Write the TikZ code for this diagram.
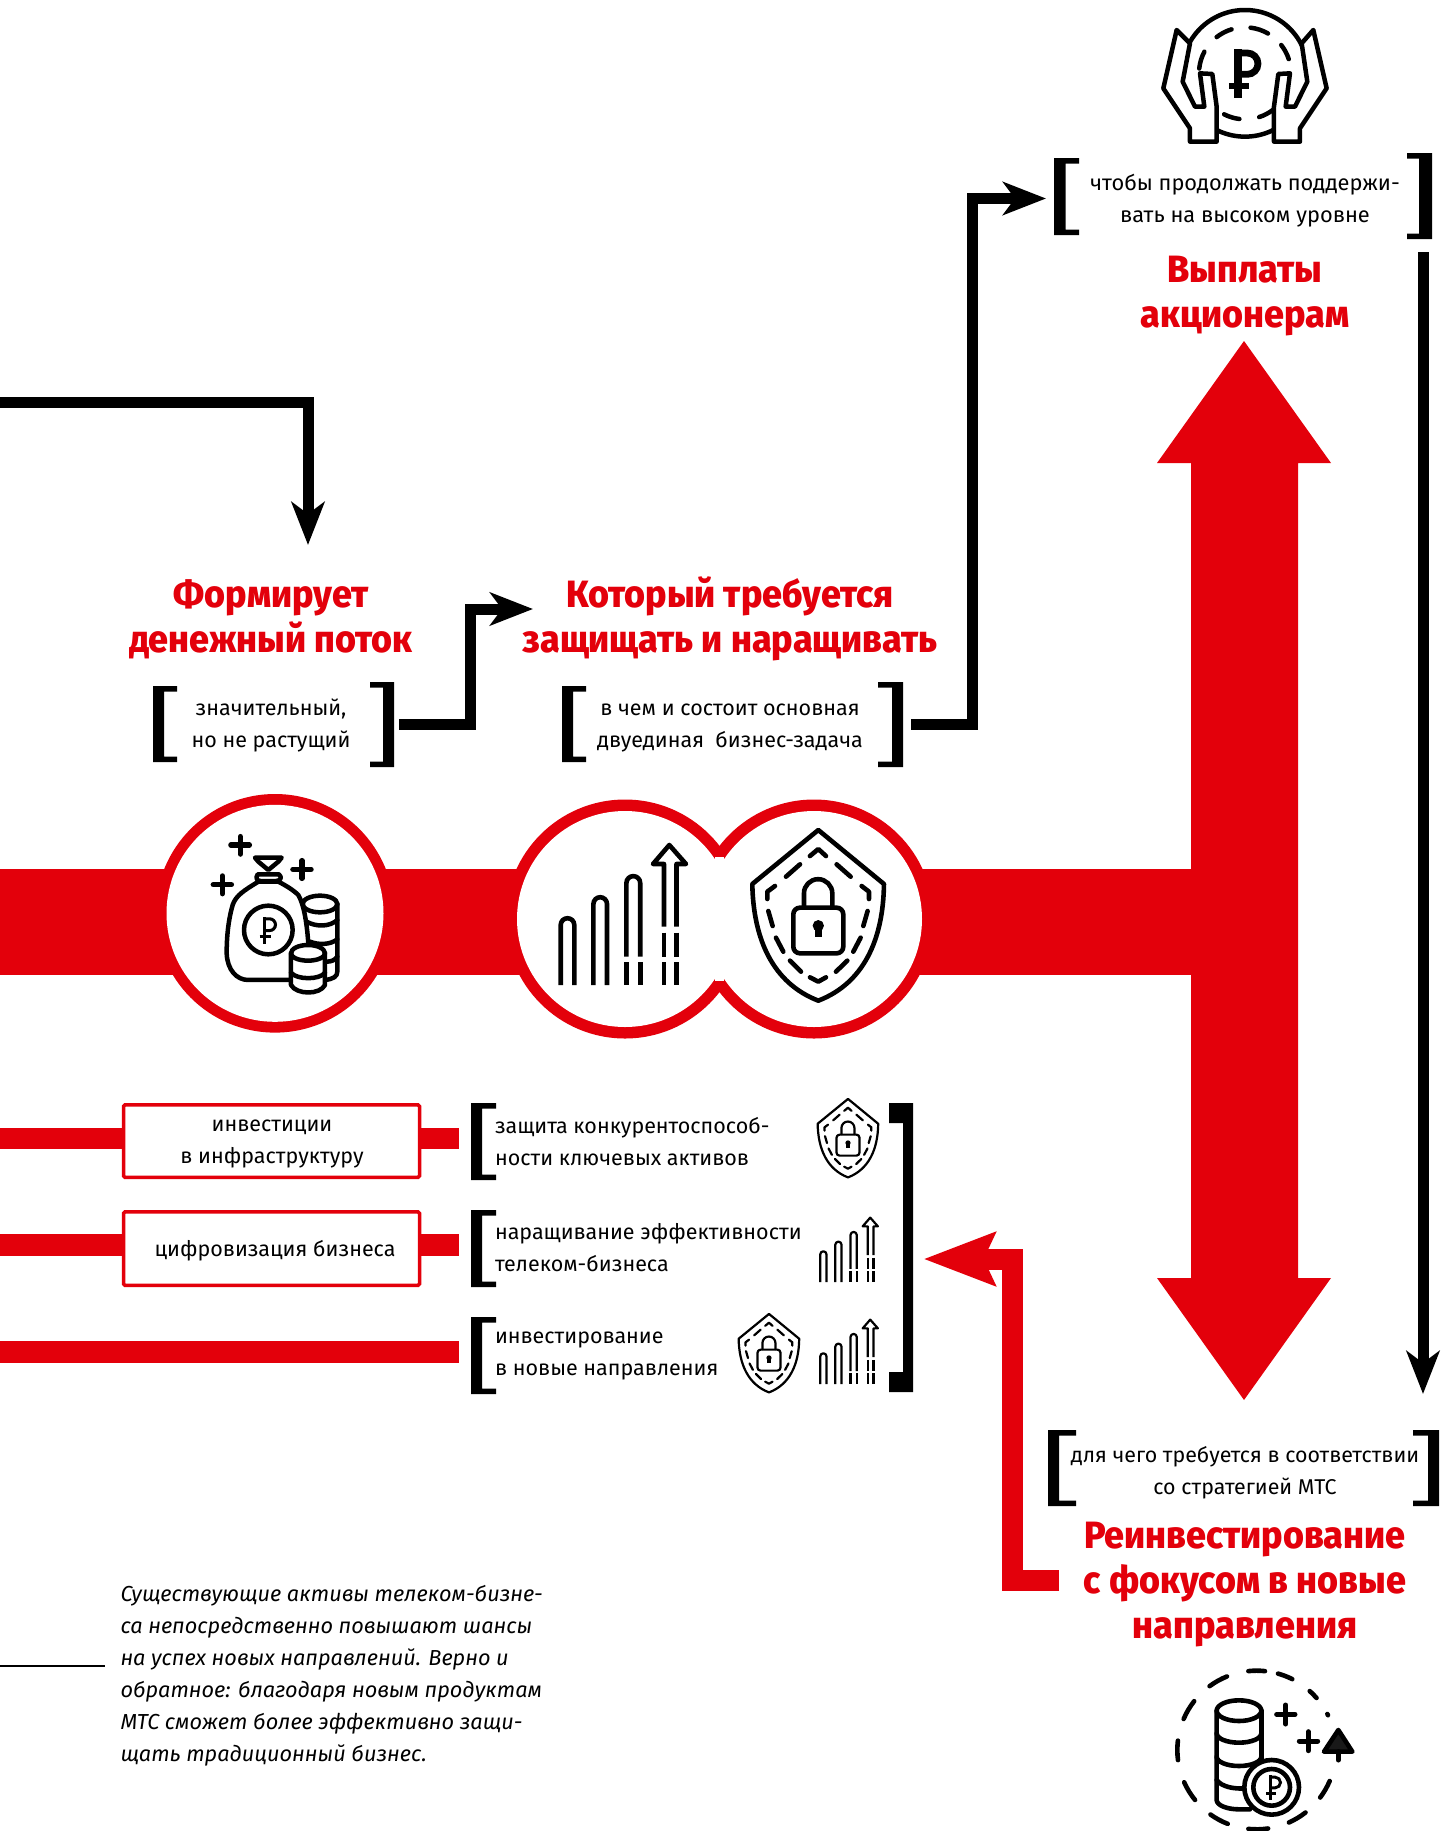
\documentclass[tikz,border=0pt]{standalone}
\usepackage{fontspec}
\setmainfont{Fira Sans}
\newfontfamily\headfont[FakeStretch=.945]{Fira Sans ExtraBold}
\usetikzlibrary{arrows.meta}
\definecolor{mtsred}{HTML}{E3000B}
\tikzset{
  bodytext/.style={inner sep=0pt,outer sep=0pt,anchor=north,align=center,font=\fontsize{21.5}{32}\selectfont},
  lefttext/.style={inner sep=0pt,outer sep=0pt,anchor=north west,align=left,font=\fontsize{21.5}{32}\selectfont},
  notetext/.style={inner sep=0pt,outer sep=0pt,anchor=north west,align=left,font=\fontsize{21.7}{32}\selectfont\itshape},
  headtext/.style={inner sep=0pt,outer sep=0pt,anchor=north,align=center,text=mtsred,font=\headfont\fontsize{38}{45}\selectfont},
  blackflow/.style={draw=black,line width=11pt,line join=miter},
  redflow/.style={draw=mtsred,line width=21pt,line join=miter},
  blackhead/.style={-{Stealth[length=43pt,width=33pt,inset=12pt]}},
  redhead/.style={-{Stealth[length=71pt,width=52pt,inset=11pt]}},
  redbar/.style={fill=mtsred,draw=none},
  redbox/.style={draw=mtsred,line width=3.5pt,fill=white,rounded corners=1.5pt,outer sep=0pt},
  icon/.style={draw=black,line cap=round,line join=round},
}
\newcommand\lbrk[6]{\fill[black] (#1,#3) -- (#2,#3) -- (#2,#3+#6) -- (#1+#5,#3+#6) -- (#1+#5,#4-#6) -- (#2,#4-#6) -- (#2,#4) -- (#1,#4) -- cycle;}
\newcommand\rbrk[6]{\fill[black] (#1,#3) -- (#2,#3) -- (#2,#4) -- (#1,#4) -- (#1,#4-#6) -- (#2-#5,#4-#6) -- (#2-#5,#3+#6) -- (#1,#3+#6) -- cycle;}
\newcommand\rubleicon[4]{\begin{scope}[shift={(#1,#2)},scale=#3]
  \draw[draw=black,line width=#4pt,line cap=butt,line join=round] (0,-72) -- (0,75);
  \draw[draw=black,line width=.85*#4pt,line cap=butt] (0,-61) -- (27,-61) arc[start angle=270,end angle=450,radius=32] -- (0,3);
  \draw[draw=black,line width=.85*#4pt,line cap=butt] (-28,38) -- (32,38);
\end{scope}}
\newcommand\charticon[4]{\begin{scope}[shift={(#1,#2)},scale=#3,line width=#4pt,draw=black,line cap=butt,line join=round]
  \draw (2.7,0) -- (2.7,-60) arc[start angle=180,end angle=360,radius=6.8] -- (16.3,0);
  \draw (35.4,0) -- (35.4,-81) arc[start angle=180,end angle=360,radius=6.8] -- (49,0);
  \draw (68.4,-28.3) -- (68.4,-102) arc[start angle=180,end angle=360,radius=6.9] -- (82.2,-28.3);
  \draw (68.4,-23) -- (68.4,0) (82.2,-23) -- (82.2,0);
  \draw (106,-58.3) -- (106,-121) -- (95,-121) -- (111.3,-140) -- (128,-121) -- (118.5,-121) -- (118.5,-58.3);
  \draw (106,-52.3) -- (106,-28.3) (118.5,-52.3) -- (118.5,-28.3);
  \draw (106,-23) -- (106,0) (118.5,-23) -- (118.5,0);
\end{scope}}
\newcommand\shieldicon[4]{\begin{scope}[shift={(#1,#2)},scale=#3,shift={(-955,-405)},line width=#4pt,draw=black,line cap=round,line join=round]
  \draw (955,150) -- (1152,312) .. controls (1150,480) and (1090,610) .. (955,662) .. controls (820,610) and (760,480) .. (757,312) -- cycle;
  \draw (930,228) -- (955,207) -- (978,228);
  \draw (858,290) -- (900,253) (1010,253) -- (1052,290);
  \draw (825,318) -- (802,335) -- (802,357) (1085,318) -- (1107,335) -- (1107,357);
  \draw (805,393) -- (818,438) (1103,393) -- (1090,438);
  \draw (828,473) -- (850,515) (1082,473) -- (1060,515);
  \draw (870,542) -- (903,575) (1042,542) -- (1008,575);
  \draw (930,592) -- (955,605) -- (978,592);
  \draw (912,380) -- (912,340) arc[start angle=180,end angle=360,radius=42.5] -- (997,380);
  \draw[rounded corners=20*#3 pt] (880,383) rectangle (1030,520);
  \fill[black] (955,437) circle[radius=17];
  \fill[black] (945,437) rectangle (965,472);
\end{scope}}
\begin{document}
\begin{tikzpicture}[x=1pt,y=-1pt]
\useasboundingbox (0,0) rectangle (1450,1831);
\clip (0,0) rectangle (1450,1831);
\fill[white] (0,0) rectangle (1450,1831);
% main red band and double arrow
\fill[redbar] (0,869) rectangle (1191,975);
\fill[redbar] (1244,341) -- (1331,463) -- (1298,463) -- (1298,1278) -- (1331,1278) -- (1244,1400) -- (1157,1278) -- (1191,1278) -- (1191,463) -- (1157,463) -- cycle;
% circles
\fill[mtsred] (275,913.3) circle[radius=119.3];
\fill[white] (275,913.3) circle[radius=108.5];
\fill[mtsred] (625,919) circle[radius=119.5] (814,919) circle[radius=119.5];
\fill[white] (625,919) circle[radius=108] (814,919) circle[radius=108];
\fill[white] (715,857) rectangle (724,981);
% money bag icon
\begin{scope}[shift={(130,780)},scale=.3333,icon,line width=4.5pt]
  \draw (622,372) -- (622,575) .. controls (622,590) and (610,597) .. (585,600);
  \draw (518,372) arc[start angle=180,end angle=360,x radius=52,y radius=25];
  \draw (518,372) arc[start angle=180,end angle=0,x radius=52,y radius=25];
  \draw (530,425) .. controls (560,442) and (600,440) .. (622,420);
  \draw (540,485) .. controls (565,495) and (600,495) .. (622,478);
  \draw (590,545) .. controls (605,545) and (615,540) .. (622,530);
  \draw[fill=white] (385,305) .. controls (345,330) and (318,345) .. (308,375) .. controls (295,420) and (290,470) .. (290,520) .. controls (292,570) and (320,600) .. (355,600) -- (480,600) -- (535,600) -- (535,490) .. controls (530,420) and (520,370) .. (505,345) .. controls (490,330) and (465,315) .. (445,305) -- cycle;
  \draw[fill=white] (415,450) circle[radius=73];
  \draw[fill=white] (383,283) .. controls (375,295) and (382,303) .. (392,303) -- (438,303) .. controls (452,303) and (457,292) .. (447,283) -- cycle;
  \draw (375,233) -- (455,233) -- (445,245) -- (415,270) -- (385,245) -- cycle;
  \draw[fill=white] (483,520) -- (483,615) .. controls (500,645) and (570,645) .. (585,615) -- (585,520) arc[start angle=360,end angle=180,x radius=51,y radius=25];
  \draw (483,520) arc[start angle=180,end angle=0,x radius=51,y radius=22];
  \draw (483,578) .. controls (500,600) and (570,600) .. (585,578);
  \draw[line width=5.5pt] (303,195) -- (358,195) (331,170) -- (331,222);
  \draw[line width=5.5pt] (250,314) -- (304,314) (277,288) -- (277,341);
  \draw[line width=5.5pt] (489,268) -- (543,268) (516,242) -- (516,295);
\end{scope}
\begin{scope}[shift={(130,780)},scale=.3333]
  \rubleicon{404}{450}{.55}{3.6}
\end{scope}
% chart + shield icons
\charticon{558}{985}{1}{4.6}
\shieldicon{818.3}{915}{.3333}{4.6}
\charticon{819}{1282}{.46}{2.2}
\charticon{819}{1384}{.46}{2.2}
\shieldicon{848}{1138}{.1533}{2.2}
\shieldicon{769}{1353}{.1533}{2.2}
% top hands icon
\begin{scope}[shift={(1020,0)},scale=.3333,icon,line width=4.5pt]
  \draw (675,220) circle[radius=190];
  \foreach \a/\b in {232/253,277/300,322/342,208/186,117/97,72/53}
    \draw ([shift={(\a:138)}]675,220) arc[start angle=\a,end angle=\b,radius=138];
  \draw[fill=white] (470,90) -- (430,265) -- (510,385) -- (510,425) -- (590,425) -- (590,320) -- (577,222) -- (540,220) -- (553,320) -- (525,320) -- (488,245) -- (510,130) -- cycle;
  \draw[fill=white] (880,90) -- (920,265) -- (840,385) -- (840,425) -- (762,425) -- (762,320) -- (775,222) -- (810,220) -- (797,320) -- (825,320) -- (862,245) -- (845,130) -- cycle;
\end{scope}
\begin{scope}[shift={(1020,0)},scale=.3333]
  \rubleicon{655}{220}{1}{8}
\end{scope}
% bottom coins icon
\begin{scope}[shift={(1150,1650)},scale=.3333,icon,line width=4.6pt]
  \foreach \a/\b in {264/276,285.6/296.7,312/319,333/334,23/36.8,52/66,81.7/96,111.4/125.6,141/156,172.7/186.8,203/218,233.6/248}
    \draw ([shift={(\a:238)}]320,300) arc[start angle=\a,end angle=\b,radius=238];
  \draw (267,182) circle[x radius=67,y radius=31];
  \draw (200,182) -- (200,450) arc[start angle=180,end angle=90,x radius=67,y radius=28] -- (300,478);
  \draw (334,182) -- (334,340);
  \draw (200,250) arc[start angle=180,end angle=0,x radius=67,y radius=28];
  \draw (200,320) arc[start angle=180,end angle=0,x radius=67,y radius=28];
  \draw (200,390) .. controls (215,410) and (250,418) .. (290,415);
  \draw[fill=white] (365,412) circle[radius=82];
  \draw (365,412) circle[radius=55];
  \draw[line width=5pt] (380,193) -- (435,193) (407,165) -- (407,222);
  \draw[line width=5pt] (448,273) -- (503,273) (475,245) -- (475,302);
  \draw[fill=black!90] (565,240) -- (522,305) -- (607,305) -- cycle;
  \draw[line width=5pt] (565,305) -- (565,330);
\end{scope}
\begin{scope}[shift={(1150,1650)},scale=.3333]
  \rubleicon{362}{412}{.5}{3.4}
\end{scope}
% brackets
\lbrk{1054}{1079}{158}{235}{11.5}{5.5}
\rbrk{1407}{1432}{153}{239}{13}{5.5}
\lbrk{153}{177}{686}{762}{11}{5.5}
\rbrk{370}{394}{682}{767}{11}{5.5}
\lbrk{562}{586}{686}{762}{11}{5.5}
\rbrk{878}{903}{682}{767}{11}{5.5}
\lbrk{471}{496}{1103}{1180}{11}{5.5}
\lbrk{471}{496}{1210}{1287}{11}{5.5}
\lbrk{471}{496}{1317}{1394}{11}{5.5}
\rbrk{889}{913}{1103}{1392}{10}{20}
\lbrk{1048}{1076}{1430}{1506}{11}{5.5}
\rbrk{1413}{1439}{1430}{1506}{11}{5.5}
% small red bars and boxes
\fill[redbar] (0,1128) rectangle (459,1149);
\fill[redbar] (0,1234) rectangle (459,1256);
\fill[redbar] (0,1341) rectangle (459,1363);
\node[redbox,minimum width=296pt,minimum height=72.5pt,anchor=north west,inner sep=0pt] (boxa) at (123.5,1104.8) {};
\node[redbox,minimum width=296pt,minimum height=73.5pt,anchor=north west,inner sep=0pt] (boxb) at (123.5,1211.8) {};
% texts
\node[bodytext,font=\fontsize{21.8}{32}\selectfont] (tkeep) at (1245,167.6) {\strut чтобы продолжать поддержи-\\\strut вать на высоком уровне};
\node[headtext] (hpay) at (1245,250.5) {\strut Выплаты\\\strut акционерам};
\node[headtext] (hflow) at (271,575.5) {\strut Формирует\\\strut денежный поток};
\node[headtext] (hprot) at (730,575.5) {\strut Который требуется\\\strut защищать и наращивать};
\node[bodytext] (tbig) at (271,692.8) {\strut значительный,\\\strut но не растущий};
\node[bodytext] (ttask) at (730,692.8) {\strut в чем и состоит основная\\\strut двуединая\ \ бизнес-задача};
\node[bodytext] (tinfra) at (272,1108.8) {\strut инвестиции\\\strut в инфраструктуру};
\node[bodytext] (tdigi) at (275,1233.8) {\strut цифровизация бизнеса};
\node[lefttext] (rowa) at (495,1110.8) {\strut защита конкурентоспособ-\\\strut ности ключевых активов};
\node[lefttext] (rowb) at (495,1216.8) {\strut наращивание эффективности\\\strut телеком-бизнеса};
\node[lefttext] (rowc) at (495,1320.8) {\strut инвестирование\\\strut в новые направления};
\node[bodytext,font=\fontsize{21.4}{32}\selectfont] (twhy) at (1245,1439.8) {\strut для чего требуется в соответствии\\\strut со стратегией МТС};
\node[headtext] (hre) at (1245,1516.5) {\strut Реинвестирование\\\strut с фокусом в новые\\\strut направления};
\node[notetext] (note) at (120.5,1578.6) {\strut Существующие активы телеком-бизне-\\\strut са непосредственно повышают шансы\\\strut на успех новых направлений. Верно и\\\strut обратное: благодаря новым продуктам\\\strut МТС сможет более эффективно защи-\\\strut щать традиционный бизнес.};
% connectors
\coordinate (a1s) at (0,402); \coordinate (a1t) at (308,545);
\draw[blackflow,blackhead] (a1s) -| (a1t);
\coordinate (a2s) at (399,724); \coordinate (a2m) at (470.5,609); \coordinate (a2t) at (533,609);
\draw[blackflow,blackhead] (a2s) -| (a2m) -- (a2t);
\coordinate (a3s) at (911,724); \coordinate (a3m) at (972.5,198.5); \coordinate (a3t) at (1046,198.5);
\draw[blackflow,blackhead] (a3s) -| (a3m) -- (a3t);
\coordinate (a4s) at (1423,252); \coordinate (a4t) at (1423,1394);
\draw[blackflow,blackhead] (a4s) -- (a4t);
\coordinate (a5s) at (1059,1580.5); \coordinate (a5m) at (1012.5,1259); \coordinate (a5t) at (923.5,1259);
\draw[redflow,redhead] (a5s) -| (a5m) -- (a5t);
\coordinate (ls) at (0,1666); \coordinate (le) at (105,1666);
\draw[black,line width=2.6pt] (ls) -- (le);
\end{tikzpicture}
\end{document}
